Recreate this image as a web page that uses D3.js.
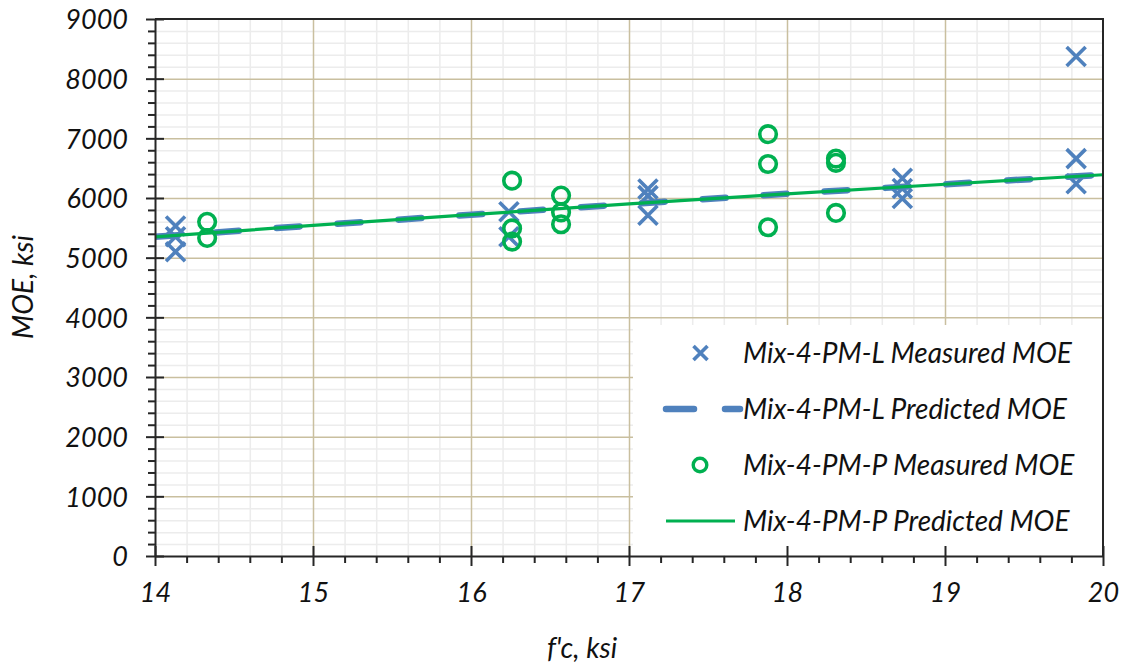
<!DOCTYPE html>
<html><head><meta charset="utf-8">
<script src="https://cdn.jsdelivr.net/npm/d3@7"></script>
<style>
html,body{margin:0;padding:0;background:#fff;}
svg{display:block;}
text{font-family:Lato,"Open Sans",sans-serif;font-style:italic;fill:#111;}
</style></head>
<body><svg id="c" width="1128" height="665"></svg>
<script>
// ---- data ----
const xTicks = [14, 15, 16, 17, 18, 19, 20];
const yTicks = [0, 1000, 2000, 3000, 4000, 5000, 6000, 7000, 8000, 9000];
const xMinorTicks = [14.2,14.4,14.6,14.8,15.2,15.4,15.6,15.8,16.2,16.4,16.6,16.8,17.2,17.4,17.6,17.8,18.2,18.4,18.6,18.8,19.2,19.4,19.6,19.8];
const yMinorTicks = [200,400,600,800,1200,1400,1600,1800,2200,2400,2600,2800,3200,3400,3600,3800,4200,4400,4600,4800,5200,5400,5600,5800,6200,6400,6600,6800,7200,7400,7600,7800,8200,8400,8600,8800];

const seriesNames = ["Mix-4-PM-L Measured MOE", "Mix-4-PM-L Predicted MOE", "Mix-4-PM-P Measured MOE", "Mix-4-PM-P Predicted MOE"];

const lMeasuredX = [14.13, 14.13, 14.13, 16.24, 16.24, 17.12, 17.12, 17.12, 18.73, 18.73, 18.73, 19.83, 19.83, 19.83];
const lMeasuredY = [5530, 5350, 5100, 5770, 5350, 6150, 6040, 5710, 6330, 6160, 5990, 8370, 6660, 6240];

const pMeasuredX = [14.33, 14.33, 16.26, 16.26, 16.26, 16.57, 16.57, 16.57, 17.88, 17.88, 17.88, 18.31, 18.31, 18.31];
const pMeasuredY = [5600, 5330, 6290, 5490, 5270, 6040, 5760, 5560, 7070, 6570, 5510, 6660, 6590, 5750];

const predX = [14, 15, 16, 17, 18, 19, 20];
const lPredY = [5350, 5540, 5720, 5900, 6070, 6230, 6390];
const pPredY = [5350, 5540, 5720, 5900, 6070, 6230, 6390];

// ---- layout ----
const L = 155, R = 1103, T = 19, B = 556;
const blue = "#4f81bd", green = "#00b050";
const majorGrid = "#c9bf9f", minorGrid = "#ececec", axisCol = "#262626";

const svg = d3.select("#c");
const x = d3.scaleLinear().domain([14, 20]).range([L, R]);
const y = d3.scaleLinear().domain([0, 9000]).range([B, T]);

// minor gridlines
svg.append("g").attr("transform", `translate(0,${B})`)
  .call(d3.axisBottom(x).tickValues(xMinorTicks).tickSize(-(B - T)).tickFormat(""))
  .call(g => { g.select(".domain").remove(); g.selectAll("line").attr("stroke", minorGrid).attr("stroke-width", 1.5); });
svg.append("g").attr("transform", `translate(${L},0)`)
  .call(d3.axisLeft(y).tickValues(yMinorTicks).tickSize(-(R - L)).tickFormat(""))
  .call(g => { g.select(".domain").remove(); g.selectAll("line").attr("stroke", minorGrid).attr("stroke-width", 1.5); });
// major gridlines
svg.append("g").attr("transform", `translate(0,${B})`)
  .call(d3.axisBottom(x).tickValues(xTicks.slice(1, -1)).tickSize(-(B - T)).tickFormat(""))
  .call(g => { g.select(".domain").remove(); g.selectAll("line").attr("stroke", majorGrid).attr("stroke-width", 1.5); });
svg.append("g").attr("transform", `translate(${L},0)`)
  .call(d3.axisLeft(y).tickValues(yTicks.slice(1, -1)).tickSize(-(R - L)).tickFormat(""))
  .call(g => { g.select(".domain").remove(); g.selectAll("line").attr("stroke", majorGrid).attr("stroke-width", 1.5); });

// clip
svg.append("defs").append("clipPath").attr("id", "clip")
  .append("rect").attr("x", L).attr("y", T).attr("width", R - L).attr("height", B - T);
const plot = svg.append("g").attr("clip-path", "url(#clip)");

const lineGen = d3.line().x(d => x(d[0])).y(d => y(d[1]));
const xMark = 9.5;

function drawX(g, cx, cy, s) {
  g.append("path")
    .attr("d", `M${cx - s},${cy - s}L${cx + s},${cy + s}M${cx - s},${cy + s}L${cx + s},${cy - s}`)
    .attr("stroke", blue).attr("stroke-width", 3.6).attr("fill", "none");
}

// series 1: L measured
lMeasuredX.forEach((vx, i) => drawX(plot, x(vx), y(lMeasuredY[i]), xMark));
// series 2: L predicted (dashed)
plot.append("path").datum(predX.map((v, i) => [v, lPredY[i]]))
  .attr("d", lineGen).attr("fill", "none").attr("stroke", blue)
  .attr("stroke-width", 6.5).attr("stroke-linecap", "round").attr("stroke-dasharray", "23,38");
// series 3: P measured
plot.selectAll("circle.p").data(pMeasuredX).enter().append("circle")
  .attr("cx", (d) => x(d)).attr("cy", (d, i) => y(pMeasuredY[i])).attr("r", 8.3)
  .attr("fill", "none").attr("stroke", green).attr("stroke-width", 3.6);
// series 4: P predicted
plot.append("path").datum(predX.map((v, i) => [v, pPredY[i]]))
  .attr("d", lineGen).attr("fill", "none").attr("stroke", green).attr("stroke-width", 3.2);

// plot border (top, right)
svg.append("path").attr("d", `M${L},${T}H${R}V${B}`).attr("fill", "none").attr("stroke", axisCol).attr("stroke-width", 2);

// legend
const lg = svg.append("g");
lg.append("rect").attr("x", 633).attr("y", 325).attr("width", R - 633 - 1).attr("height", B - 325 - 1).attr("fill", "#fff");
const rowY = [353, 409, 465, 521];
const tx = 743;
drawX(lg, 700.5, rowY[0], 7);
lg.append("line").attr("x1", 666).attr("x2", 740).attr("y1", rowY[1]).attr("y2", rowY[1])
  .attr("stroke", blue).attr("stroke-width", 6.5).attr("stroke-linecap", "round").attr("stroke-dasharray", "28,31");
lg.append("circle").attr("cx", 700).attr("cy", rowY[2]).attr("r", 6.8).attr("fill", "none").attr("stroke", green).attr("stroke-width", 3.4);
lg.append("line").attr("x1", 666).attr("x2", 735).attr("y1", rowY[3]).attr("y2", rowY[3])
  .attr("stroke", green).attr("stroke-width", 3.2);
seriesNames.forEach((n, i) => {
  lg.append("text").attr("x", tx).attr("y", rowY[i]).attr("dy", "0.36em")
    .attr("font-size", 28).text(n);
});

// axes
const yAx = svg.append("g").attr("transform", `translate(${L},0)`)
  .call(d3.axisLeft(y).tickValues(yTicks).tickSizeInner(9).tickSizeOuter(0).tickPadding(18).tickFormat(d3.format("d")));
yAx.select(".domain").attr("stroke", axisCol).attr("stroke-width", 2);
yAx.selectAll("line").attr("stroke", axisCol).attr("stroke-width", 2);
yAx.selectAll("text").attr("font-size", 27).attr("font-family", "Lato").attr("fill", "#111").attr("dy", "0.36em");
svg.append("g").attr("transform", `translate(${L},0)`)
  .call(d3.axisLeft(y).tickValues(yTicks).tickSize(-9).tickFormat(""))
  .call(g => { g.select(".domain").remove(); g.selectAll("line").attr("stroke", axisCol).attr("stroke-width", 2); });
svg.append("g").attr("transform", `translate(${L},0)`)
  .call(d3.axisLeft(y).tickValues(yMinorTicks).tickSize(7).tickFormat(""))
  .call(g => { g.select(".domain").remove(); g.selectAll("line").attr("stroke", axisCol).attr("stroke-width", 2); });

const xAx = svg.append("g").attr("transform", `translate(0,${B})`)
  .call(d3.axisBottom(x).tickValues(xTicks).tickSizeInner(10).tickSizeOuter(0).tickPadding(17).tickFormat(d3.format("d")));
xAx.select(".domain").attr("stroke", axisCol).attr("stroke-width", 2);
xAx.selectAll("line").attr("stroke", axisCol).attr("stroke-width", 2);
xAx.selectAll("text").attr("font-size", 27).attr("font-family", "Lato").attr("fill", "#111");
svg.append("g").attr("transform", `translate(0,${B})`)
  .call(d3.axisBottom(x).tickValues(xTicks).tickSize(-10).tickFormat(""))
  .call(g => { g.select(".domain").remove(); g.selectAll("line").attr("stroke", axisCol).attr("stroke-width", 2); });
svg.append("g").attr("transform", `translate(0,${B})`)
  .call(d3.axisBottom(x).tickValues(xMinorTicks).tickSize(7).tickFormat(""))
  .call(g => { g.select(".domain").remove(); g.selectAll("line").attr("stroke", axisCol).attr("stroke-width", 2); });

// axis titles
svg.append("text").attr("x", 582).attr("y", 658).attr("text-anchor", "middle").attr("font-size", 28).text("f'c, ksi");
svg.append("text").attr("transform", "translate(33,287) rotate(-90)").attr("text-anchor", "middle").attr("font-size", 28).text("MOE, ksi");
</script></body></html>
